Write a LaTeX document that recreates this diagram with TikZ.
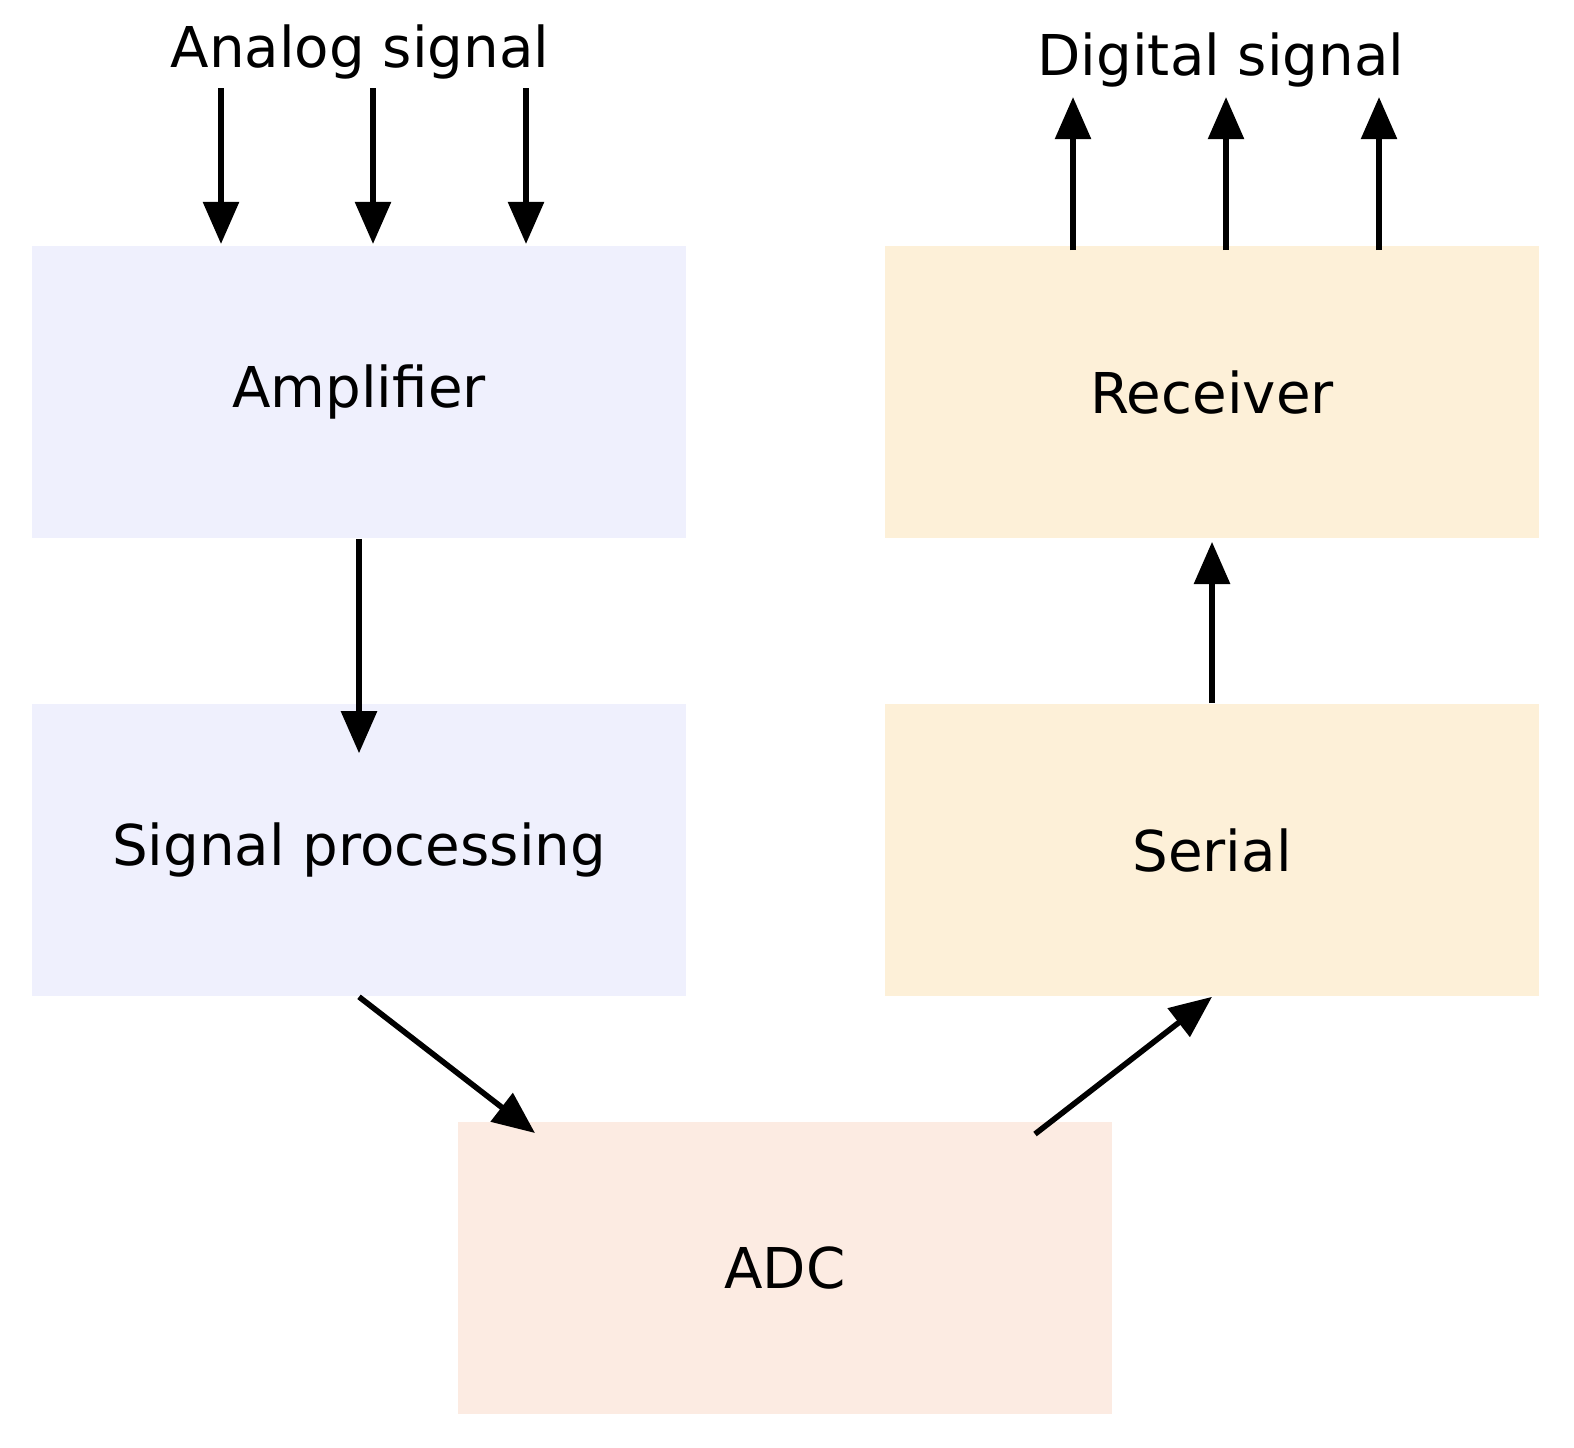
\documentclass[tikz,border=0pt]{standalone}
\usepackage{fontspec}
\setmainfont{DejaVu Sans}
\usetikzlibrary{arrows.meta}
\definecolor{lav}{HTML}{EFF0FD}
\definecolor{sand}{HTML}{FDF0D8}
\definecolor{peach}{HTML}{FCEBE2}
\begin{document}
\begin{tikzpicture}[x=0.01cm,y=-0.01cm,
  box/.style={draw=none,minimum width=6.54cm,minimum height=2.92cm,inner sep=0pt,font=\fontsize{16}{18}\selectfont},
  lbl/.style={font=\fontsize{16}{18}\selectfont,inner sep=0pt},
  arr/.style={line width=1.6pt,-{Triangle[length=12pt,width=10pt]}}]
\useasboundingbox (0,0) rectangle (1574,1447);
\node[box,fill=lav] (amp) at (359,392) {Amplifier};
\node[box,fill=lav] (sp) at (359,850) {Signal processing};
\node[box,fill=sand] (rec) at (1212,392) {Receiver};
\node[box,fill=sand] (ser) at (1212,850) {Serial};
\node[box,fill=peach] (adc) at (785,1268) {ADC};
\node[lbl] (an) at (360,52) {Analog signal};
\node[lbl] (dg) at (1221,60) {Digital signal};
\foreach \x/\n in {221/a,373/b,526/c}{
  \coordinate (s\n) at (\x,88);
  \draw[arr] (s\n) -- (\x,244);}
\foreach \x/\n in {1073/a,1226/b,1379/c}{
  \coordinate (t\n) at (\x,97);
  \draw[arr] (\x,250) -- (t\n);}
\draw[arr] (amp.south) -- ([yshift=-0.5cm]sp.north);
\draw[arr] (ser.north) -- ([yshift=-0.03cm]rec.south);
\draw[arr] (sp.south) -- (535,1133);
\draw[arr] (1035,1134) -- (ser.south);
\end{tikzpicture}
\end{document}
